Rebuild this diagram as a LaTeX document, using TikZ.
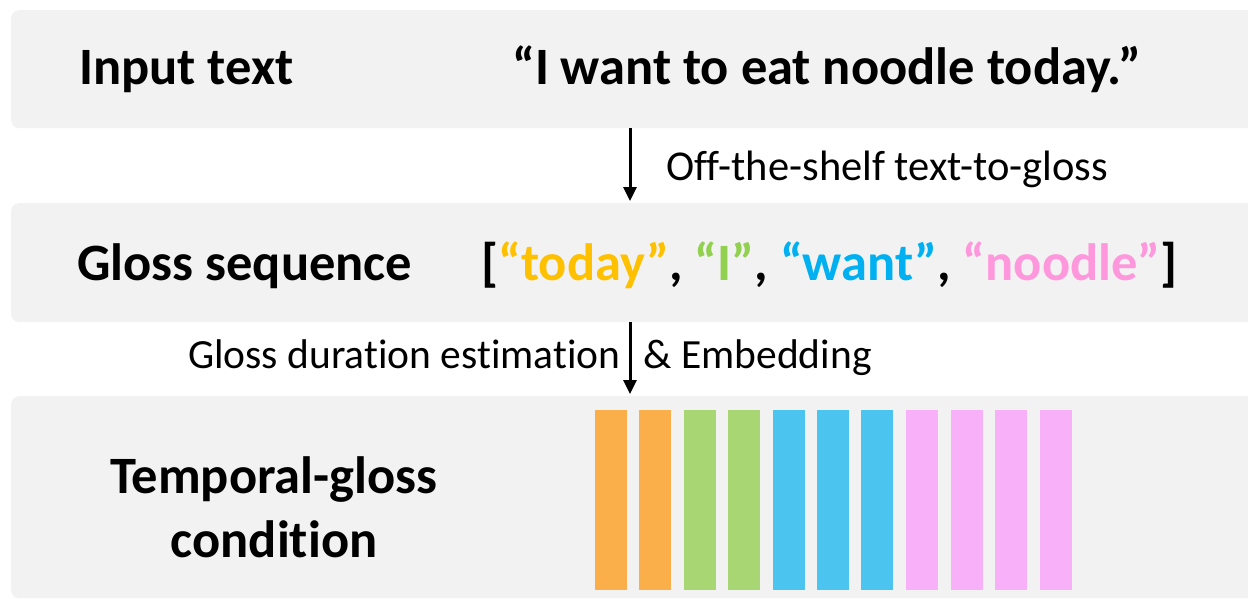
\documentclass[tikz,border=0pt]{standalone}
\usepackage{fontspec}
\setmainfont{Carlito}[Ligatures={NoCommon}]
\usetikzlibrary{arrows.meta}
\definecolor{bandc}{HTML}{F2F2F2}
\definecolor{cToday}{HTML}{FFC000}
\definecolor{cI}{HTML}{92D050}
\definecolor{cWant}{HTML}{00B0F0}
\definecolor{cNoodle}{HTML}{FF97DD}
\definecolor{bOrange}{HTML}{FBAF4A}
\definecolor{bGreen}{HTML}{A8D672}
\definecolor{bBlue}{HTML}{4BC4F0}
\definecolor{bPink}{HTML}{F8B0F8}
\begin{document}
\begin{tikzpicture}[x=1pt,y=-1pt,
  band/.style={fill=bandc, draw=none, rounded corners=8pt, inner sep=0pt, anchor=north west},
  bigtxt/.style={font=\fontsize{52.5}{60}\selectfont\bfseries, inner sep=0pt, anchor=base west},
  smalltxt/.style={font=\fontsize{42.5}{50}\selectfont, inner sep=0pt, anchor=base west},
  arr/.style={line width=3pt, -{Triangle[width=13pt,length=14pt]}},
  bar/.style={draw=none, inner sep=0pt, minimum width=32pt, minimum height=180pt, anchor=north west}]
\useasboundingbox (0,0) rectangle (1248,599);
\begin{scope}
\clip (0,0) rectangle (1248,599);
\node[band, minimum width=1260pt, minimum height=118pt] (b1) at (11,10) {};
\node[band, minimum width=1260pt, minimum height=119pt] (b2) at (11,203) {};
\node[band, minimum width=1260pt, minimum height=202pt] (b3) at (11,396) {};
\end{scope}
\coordinate (ax) at (630,0);
% texts
\node[bigtxt] (t1) at (79,85) {Input text};
\node[bigtxt] (q1) at (512,85) {“I want to eat noodle today.”};
\node[bigtxt] (t2) at (77,280) {Gloss sequence};
\node[bigtxt] (q2) at (481,280) {[\textcolor{cToday}{“today”}, \textcolor{cI}{“I”}, \textcolor{cWant}{“want”}, \textcolor{cNoodle}{“noodle”}]};
\node[bigtxt, align=center, anchor=base, font=\fontsize{52.5}{63.7}\selectfont\bfseries] (t3) at (274,557) {Temporal-gloss\\condition};
\node[smalltxt] (l1) at (666,181) {Off-the-shelf text-to-gloss};
\node[smalltxt, font=\fontsize{41.5}{50}\selectfont] (l2) at (188,368) {Gloss duration estimation\hspace{14pt} \& Embedding};
% arrows
\draw[arr] (b1.south -| ax) -- ([yshift=2pt]b2.north -| ax);
\draw[arr] (b2.south -| ax) -- ([yshift=2pt]b3.north -| ax);
% bars
\node[bar, fill=bOrange] (r1) at (595,410) {};
\node[bar, fill=bOrange] (r2) at (639,410) {};
\node[bar, fill=bGreen] (r3) at (684,410) {};
\node[bar, fill=bGreen] (r4) at (728,410) {};
\node[bar, fill=bBlue] (r5) at (773,410) {};
\node[bar, fill=bBlue] (r6) at (817,410) {};
\node[bar, fill=bBlue] (r7) at (861,410) {};
\node[bar, fill=bPink] (r8) at (906,410) {};
\node[bar, fill=bPink] (r9) at (951,410) {};
\node[bar, fill=bPink] (r10) at (995,410) {};
\node[bar, fill=bPink] (r11) at (1040,410) {};
\end{tikzpicture}
\end{document}
